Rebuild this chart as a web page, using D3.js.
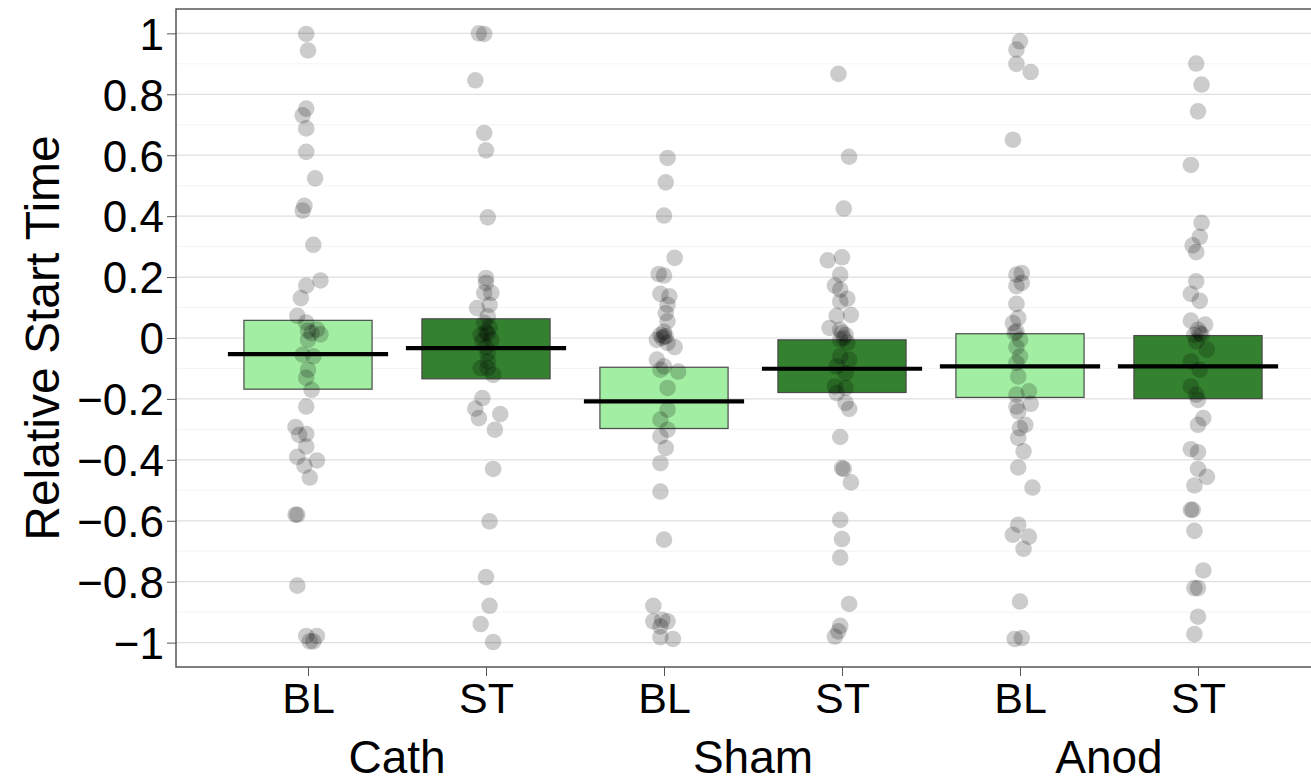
<!DOCTYPE html>
<html>
<head>
<meta charset="utf-8">
<script src="https://cdn.jsdelivr.net/npm/d3@7"></script>
<style>
  body { margin: 0; background: #fff; }
  text { font-family: "Liberation Sans", Arial, Helvetica, sans-serif; fill: #000; }
</style>
</head>
<body>
<div id="chart"></div>
<script>
// categories along the x axis
const conditions = ["BL", "ST", "BL", "ST", "BL", "ST"]
const groups = ["Cath", "Sham", "Anod"]
const yTicks = [-1, -0.8, -0.6, -0.4, -0.2, 0, 0.2, 0.4, 0.6, 0.8, 1]

// bar summary per category: lower edge, upper edge, mean line
const barLow = [-0.168, -0.134, -0.297, -0.179, -0.195, -0.199]
const barHigh = [0.058, 0.063, -0.096, -0.006, 0.014, 0.008]
const barMean = [-0.053, -0.033, -0.208, -0.101, -0.093, -0.093]

// individual observations: [value, jitter in hundredths of a category]
const cathBL = [[0.998, -1], [0.944, 0], [0.753, -1], [0.731, -3], [0.688, -1], [0.611, -1], [0.524, 4], [0.434, -2], [0.418, -3], [0.306, 3], [0.189, 7], [0.172, -1], [0.131, -4], [0.073, -6], [0.051, -1], [0.024, 0], [0.028, 5], [0.016, 2], [0.012, 7], [-0.006, 0], [-0.055, -3], [-0.06, 3], [-0.104, 0], [-0.131, -1], [-0.170, 2], [-0.225, -1], [-0.292, -7], [-0.318, -5], [-0.315, -1], [-0.356, -1], [-0.390, -6], [-0.402, 5], [-0.419, -2], [-0.458, 1], [-0.580, -7], [-0.580, -6], [-0.813, -6], [-0.978, -1], [-0.978, 5], [-0.996, 1], [-0.996, 3]]
const cathST = [[1.0, -4], [0.998, -1], [0.846, -6], [0.673, -1], [0.616, 0], [0.396, 1], [0.197, 0], [0.181, 0], [0.148, -1], [0.148, 3], [0.109, 2], [0.098, -5], [0.071, 1], [0.05, -1], [0.035, 2], [0.02, 0], [0.01, -3], [0.015, 1], [-0.005, 3], [-0.01, -2], [-0.03, 0], [-0.05, 1], [-0.077, 1], [-0.099, -3], [-0.099, 1], [-0.121, 4], [-0.197, -2], [-0.232, -6], [-0.250, 8], [-0.263, -4], [-0.301, 5], [-0.430, 4], [-0.602, 2], [-0.785, 0], [-0.879, 2], [-0.939, -3], [-0.998, 4]]
const shamBL = [[0.591, 2], [0.511, 1], [0.402, 0], [0.263, 6], [0.210, -3], [0.205, 0], [0.145, -2], [0.137, 3], [0.109, 2], [0.082, 1], [0.055, 2], [0.02, 0], [0.01, -2], [0.005, 1], [0.0, -1], [0.005, 0], [-0.006, -4], [-0.016, 2], [-0.030, 6], [-0.071, -4], [-0.093, 0], [-0.104, -2], [-0.110, 8], [-0.164, 2], [-0.235, 2], [-0.268, -2], [-0.301, 2], [-0.323, -2], [-0.361, 1], [-0.411, -2], [-0.504, -2], [-0.662, 0], [-0.879, -6], [-0.93, -6], [-0.925, -1], [-0.93, 2], [-0.947, -2], [-0.982, -2], [-0.988, 5]]
const shamST = [[0.867, -2], [0.595, 4], [0.425, 1], [0.255, -8], [0.265, 0], [0.208, -1], [0.172, -4], [0.159, -1], [0.129, 3], [0.120, -1], [0.073, -3], [0.076, 5], [0.033, -7], [0.017, 0], [0.027, -1], [0.01, 2], [-0.005, -1], [-0.015, 3], [0.0, 1], [-0.06, -1], [-0.071, 4], [-0.093, -3], [-0.115, 2], [-0.159, -4], [-0.164, 2], [-0.181, -3], [-0.213, 2], [-0.233, 4], [-0.325, -1], [-0.427, 0], [-0.430, 1], [-0.474, 5], [-0.597, -1], [-0.660, 0], [-0.721, -1], [-0.873, 4], [-0.945, -1], [-0.963, -2], [-0.980, -4]]
const anodBL = [[0.974, 0], [0.947, -2], [0.900, -2], [0.873, 6], [0.651, -4], [0.213, 1], [0.208, -2], [0.181, 1], [0.170, -2], [0.112, -2], [0.066, -1], [0.049, -4], [0.022, -2], [0.017, -3], [-0.005, 0], [-0.03, -2], [-0.06, 0], [-0.082, -2], [-0.126, -1], [-0.175, 5], [-0.186, -2], [-0.216, 6], [-0.225, -2], [-0.241, -1], [-0.285, 3], [-0.296, 0], [-0.328, -1], [-0.372, 2], [-0.425, -1], [-0.491, 7], [-0.613, -1], [-0.646, -4], [-0.652, 5], [-0.692, 2], [-0.865, 0], [-0.988, -3], [-0.985, 1]]
const anodST = [[0.901, -1], [0.832, 2], [0.744, 0], [0.568, -4], [0.378, 2], [0.332, 1], [0.304, -3], [0.282, -1], [0.186, -1], [0.145, -4], [0.122, 1], [0.057, -4], [0.044, 4], [0.027, 0], [0.01, -2], [0.016, 1], [0.011, 2], [-0.011, -1], [-0.038, 5], [-0.077, -4], [-0.104, 1], [-0.159, -4], [-0.186, -1], [-0.203, 0], [-0.263, 3], [-0.285, 0], [-0.365, -4], [-0.375, 0], [-0.430, 0], [-0.456, 5], [-0.484, -2], [-0.564, -4], [-0.564, -3], [-0.633, -2], [-0.763, 3], [-0.821, -2], [-0.821, 0], [-0.915, 0], [-0.972, -2]]

const observations = [cathBL, cathST, shamBL, shamST, anodBL, anodST]

const W = 1311, H = 784
const margin = { top: 9, right: -19, bottom: 117, left: 176 }
const width = W - margin.left - margin.right
const height = H - margin.top - margin.bottom

const svg = d3.select("#chart")
    .append("svg")
    .attr("width", W)
    .attr("height", H)
    .append("g")
    .attr("transform", `translate(${margin.left},${margin.top})`)

// Scales (category index on x)
const x = d3.scaleLinear()
    .domain([-0.7416, conditions.length - 1 + 0.7416])
    .range([0, width])
const y = d3.scaleLinear()
    .domain([-1.08, 1.08])
    .range([height, 0])
const unit = x(1) - x(0)

const fillFor = i => conditions[i] === "BL" ? "#a2eea2" : "#34812f"

// Grid lines, minor then major
const minor = d3.range(-1.1, 1.11, 0.2).map(v => +v.toFixed(1)).filter(v => v >= -1.08 && v <= 1.08)
svg.append("g")
    .selectAll("line")
    .data(minor)
    .enter().append("line")
    .attr("x1", 0).attr("x2", width)
    .attr("y1", d => y(d)).attr("y2", d => y(d))
    .attr("stroke", "#f4f4f4")
    .attr("stroke-width", 1)
svg.append("g")
    .selectAll("line")
    .data(yTicks)
    .enter().append("line")
    .attr("x1", 0).attr("x2", width)
    .attr("y1", d => y(d)).attr("y2", d => y(d))
    .attr("stroke", "#dfdfdf")
    .attr("stroke-width", 1.2)

// Bars
svg.append("g")
    .selectAll("rect")
    .data(conditions)
    .enter().append("rect")
    .attr("x", (d, i) => x(i) - unit * 0.36)
    .attr("width", unit * 0.72)
    .attr("y", (d, i) => y(barHigh[i]))
    .attr("height", (d, i) => y(barLow[i]) - y(barHigh[i]))
    .attr("fill", (d, i) => fillFor(i))
    .attr("stroke", "#4a4a4a")
    .attr("stroke-width", 1.2)

// Points
observations.forEach((obs, i) => {
    svg.append("g")
        .selectAll("circle")
        .data(obs)
        .enter().append("circle")
        .attr("cx", d => x(i + d[1] / 100))
        .attr("cy", d => y(d[0]))
        .attr("r", 8.3)
        .attr("fill", "#000")
        .attr("fill-opacity", 0.2)
})

// Mean lines
svg.append("g")
    .selectAll("line")
    .data(barMean)
    .enter().append("line")
    .attr("x1", (d, i) => x(i) - unit * 0.45)
    .attr("x2", (d, i) => x(i) + unit * 0.45)
    .attr("y1", d => y(d)).attr("y2", d => y(d))
    .attr("stroke", "#000")
    .attr("stroke-width", 4.2)

// Panel border
svg.append("rect")
    .attr("x", 0).attr("y", 0)
    .attr("width", width).attr("height", height)
    .attr("fill", "none")
    .attr("stroke", "#555")
    .attr("stroke-width", 1.5)

// Y axis
const yAxis = svg.append("g")
    .call(d3.axisLeft(y).tickValues(yTicks).tickSize(9).tickPadding(3)
        .tickFormat(d => d === 0 ? "0" : (d < 0 ? "\u2212" : "") + d3.format("")(Math.abs(d))))
yAxis.select(".domain").remove()
yAxis.selectAll("line").attr("stroke", "#555")
yAxis.selectAll("text").style("font-size", "44px").attr("dy", "0.36em")

// X axis
const xAxis = svg.append("g")
    .attr("transform", `translate(0,${height})`)
    .call(d3.axisBottom(x).tickValues(d3.range(conditions.length)).tickSize(9).tickPadding(6)
        .tickFormat(i => conditions[i]))
xAxis.select(".domain").remove()
xAxis.selectAll("line").attr("stroke", "#555")
xAxis.selectAll("text").style("font-size", "43px").attr("dy", "0.71em")

// Group labels
svg.append("g")
    .selectAll("text")
    .data(groups)
    .enter().append("text")
    .attr("x", (d, i) => (x(2 * i) + x(2 * i + 1)) / 2)
    .attr("y", height + 106)
    .attr("text-anchor", "middle")
    .style("font-size", "46px")
    .text(d => d)

// Axis title
svg.append("text")
    .attr("transform", "rotate(-90)")
    .attr("x", -height / 2)
    .attr("y", -margin.left + 59)
    .attr("text-anchor", "middle")
    .style("font-size", "48px")
    .text("Relative Start Time")
</script>
</body>
</html>
